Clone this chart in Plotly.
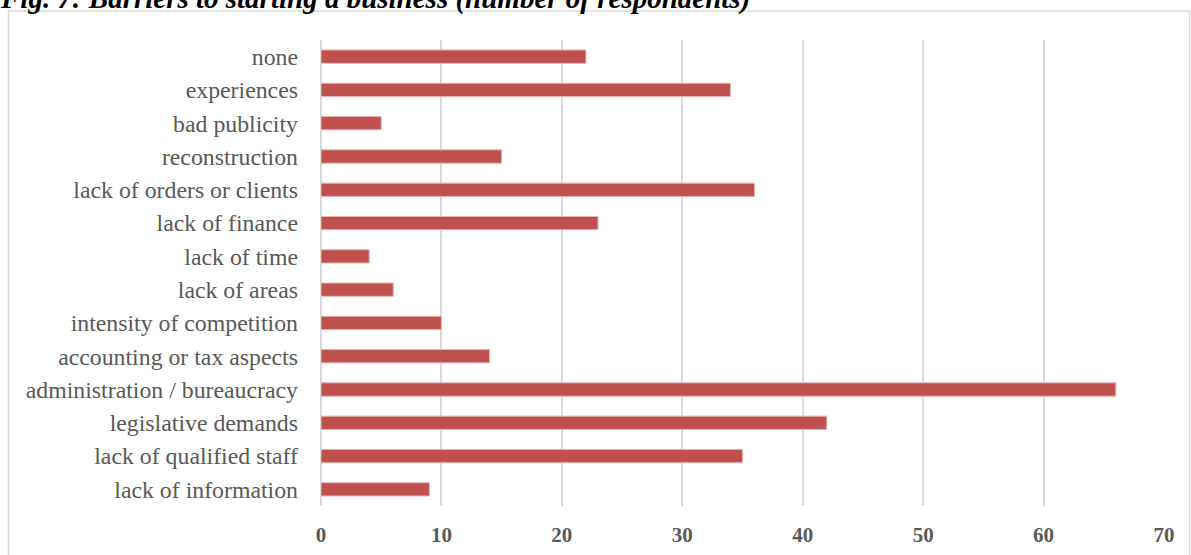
import plotly.graph_objects as go

categories = [
    "lack of information", "lack of qualified staff", "legislative demands",
    "administration / bureaucracy", "accounting or tax aspects",
    "intensity of competition", "lack of areas", "lack of time",
    "lack of finance", "lack of orders or clients", "reconstruction",
    "bad publicity", "experiences", "none",
]
values = [9, 35, 42, 66, 14, 10, 6, 4, 23, 36, 15, 5, 34, 22]
x_ticks = [0, 10, 20, 30, 40, 50, 60, 70]
title_text = "Fig. 7: Barriers to starting a business (number of respondents)"

W, H = 1191, 555
L, R, T, B = 321, 27, 40, 49
pw, ph = W - L - R, H - T - B

def px_to_paper_x(px):
    return (px - L) / pw

def px_to_paper_y(py):
    return 1 - (py - T) / ph

fig = go.Figure()
fig.add_trace(go.Bar(
    x=values, y=categories, orientation="h",
    marker=dict(color="#C0504D", line=dict(color="#E8B4B3", width=1)),
    width=0.4,
))

fig.update_layout(
    width=W, height=H,
    margin=dict(l=L, r=R, t=T, b=B, pad=0, autoexpand=False),
    paper_bgcolor="white", plot_bgcolor="white",
    showlegend=False,
    bargap=0.6,
    font=dict(family="Liberation Serif, Times New Roman, serif", color="#595959"),
    xaxis=dict(
        range=[0, 70], tickvals=x_ticks, showgrid=True, gridcolor="#D9D9D9",
        gridwidth=2, zeroline=True, zerolinecolor="#D9D9D9", zerolinewidth=2,
        tickfont=dict(size=21, family="Liberation Serif", color="#595959",
                      weight="bold"),
        ticks="", ticklen=0, showline=False, ticklabelstandoff=14,
        automargin=False,
    ),
    yaxis=dict(
        categoryorder="array", categoryarray=categories,
        range=[-0.5, len(categories) - 0.5],
        tickfont=dict(size=23.8, family="Liberation Serif", color="#595959"),
        showgrid=False, ticks="", showline=False, ticklabelstandoff=22,
        automargin=False,
    ),
    shapes=[dict(
        type="rect", xref="paper", yref="paper",
        x0=px_to_paper_x(8.5), x1=px_to_paper_x(1189.5),
        y0=px_to_paper_y(600), y1=px_to_paper_y(11),
        line=dict(color="#D9D9D9", width=1.5), fillcolor="rgba(0,0,0,0)",
        layer="below",
    )],
    annotations=[dict(
        text="<b><i>" + title_text + "</i></b>",
        xref="paper", yref="paper",
        x=px_to_paper_x(-2), y=px_to_paper_y(17),
        xanchor="left", yanchor="bottom", showarrow=False,
        font=dict(size=29, family="Liberation Serif", color="black"),
    )],
)

fig.write_html("out.html", config={"displayModeBar": False},
               post_script="document.body.style.margin='0';")
